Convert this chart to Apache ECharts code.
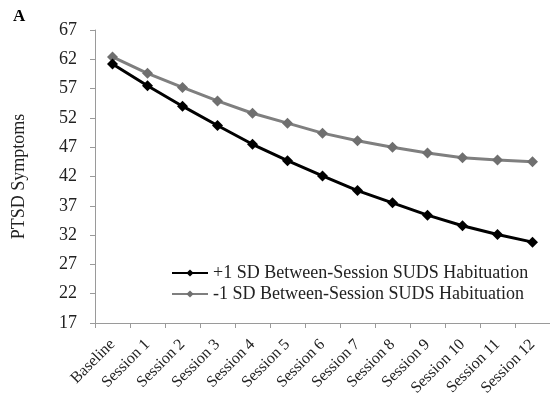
<!DOCTYPE html>
<html>
<head>
<meta charset="utf-8">
<script src="https://cdn.jsdelivr.net/npm/echarts@6/dist/echarts.min.js"></script>
<style>html,body{margin:0;padding:0;background:#fff;}#c{width:550px;height:400px;}</style>
</head>
<body>
<div id="c"></div>
<script>
const categories = ['Baseline','Session 1','Session 2','Session 3','Session 4','Session 5','Session 6','Session 7','Session 8','Session 9','Session 10','Session 11','Session 12'];
const plusSD = [61.2, 57.5, 54.0, 50.7, 47.5, 44.7, 42.1, 39.6, 37.5, 35.4, 33.6, 32.1, 30.8];
const minusSD = [62.4, 59.6, 57.2, 54.9, 52.8, 51.1, 49.4, 48.1, 47.0, 46.0, 45.2, 44.8, 44.5];
const seriesNames = ['+1 SD Between-Session SUDS Habituation', '-1 SD Between-Session SUDS Habituation'];
const yTicks = {min: 17, max: 67, interval: 5};
const yAxisTitle = 'PTSD Symptoms';
const panelLabel = 'A';

const font = '"Liberation Serif", "Times New Roman", serif';
const chart = echarts.init(document.getElementById('c'), null, {renderer: 'canvas'});
chart.setOption({
  animation: false,
  backgroundColor: '#fff',
  textStyle: {fontFamily: font},
  graphic: [{
    type: 'text', left: 13, top: 8,
    style: {text: panelLabel, font: 'bold 17px ' + font, fill: '#000'}
  }],
  grid: {left: 95, top: 30, width: 458, height: 293, containLabel: false},
  legend: {
    orient: 'vertical', left: 166, top: 259,
    itemWidth: 36, itemHeight: 9, itemGap: 3,
    textStyle: {fontFamily: font, fontSize: 18, color: '#222'},
    data: seriesNames
  },
  xAxis: {
    type: 'category', data: categories, boundaryGap: true,
    axisLine: {lineStyle: {color: '#9a9a9a', width: 1}},
    axisTick: {show: true, alignWithLabel: false, length: 5, lineStyle: {color: '#9a9a9a'}},
    axisLabel: {rotate: 45, interval: 0, fontFamily: font, fontSize: 16, color: '#222', margin: 19}
  },
  yAxis: {
    type: 'value', min: yTicks.min, max: yTicks.max, interval: yTicks.interval,
    name: yAxisTitle, nameLocation: 'middle', nameGap: 67, nameRotate: 90,
    nameTextStyle: {fontFamily: font, fontSize: 18, color: '#222'},
    axisLine: {show: true, lineStyle: {color: '#9a9a9a', width: 1}},
    axisTick: {show: true, length: 5, lineStyle: {color: '#9a9a9a'}},
    splitLine: {show: false},
    axisLabel: {fontFamily: font, fontSize: 18, color: '#222', margin: 18}
  },
  series: [{
    name: seriesNames[0], type: 'line', data: plusSD,
    symbol: 'diamond', symbolSize: 11,
    lineStyle: {color: '#000', width: 3},
    itemStyle: {color: '#000'}, z: 3
  }, {
    name: seriesNames[1], type: 'line', data: minusSD,
    symbol: 'diamond', symbolSize: 11,
    lineStyle: {color: '#7f7f7f', width: 3},
    itemStyle: {color: '#6f6f6f'}, z: 2
  }]
});
</script>
</body>
</html>
